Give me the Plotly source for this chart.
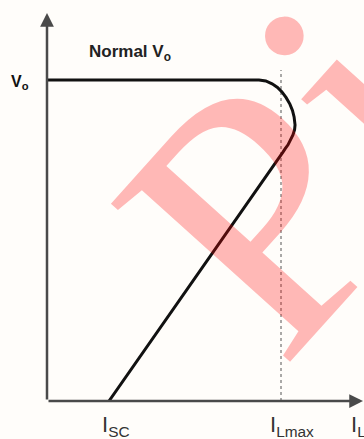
import plotly.graph_objects as go

# ---- data (normalised: I_Lmax = 1, V_o = 1) ----
current = [0.0, 0.906, 0.935, 0.962, 0.985, 1.004, 1.022, 1.038, 1.049, 1.056, 1.060, 1.058,
           1.051, 1.041, 1.030, 1.018, 1.009, 0.265]
voltage = [1.0, 1.0, 0.997, 0.988, 0.977, 0.963, 0.945, 0.925, 0.905, 0.885, 0.860, 0.845,
           0.829, 0.813, 0.798, 0.786, 0.776, 0.0]

I_SC = 0.265
I_LMAX = 1.0
V_O = 1.0
x_tick_vals = [0.295, 1.045, 1.33]
x_tick_text = ["I<sub>SC</sub>", "I<sub>Lmax</sub>", "I<sub>L</sub>"]
y_tick_text = "V<sub>o</sub>"
title_text = "Normal V<sub>o</sub>"
watermark_text = "Pi"

X_MAX = 1.3547
Y_MAX = 1.2492

fig = go.Figure()

# dotted I_Lmax marker line
fig.add_trace(go.Scatter(x=[I_LMAX, I_LMAX], y=[0, 1.031], mode="lines",
                         line=dict(color="#555555", width=1, dash="dot"),
                         hoverinfo="skip", showlegend=False))
# V-I foldback curve
fig.add_trace(go.Scatter(x=current, y=voltage, mode="lines",
                         line=dict(color="#111111", width=3),
                         hoverinfo="skip", showlegend=False, cliponaxis=False))

annotations = []
# axes with arrows
annotations.append(dict(x=0, y=1.2087, ax=0, ay=0, xref="x", yref="y", axref="x", ayref="y",
                        showarrow=True, arrowhead=2, arrowsize=1.1, arrowwidth=2.5,
                        arrowcolor="#4a4a4a", text=""))
annotations.append(dict(x=1.3504, y=0, ax=0, ay=0, xref="x", yref="y", axref="x", ayref="y",
                        showarrow=True, arrowhead=2, arrowsize=1.1, arrowwidth=2.5,
                        arrowcolor="#4a4a4a", text=""))
# x labels (below the axis, paper y)
for xv, txt in zip(x_tick_vals, x_tick_text):
    annotations.append(dict(x=xv, y=-0.022, xref="x", yref="paper", text=txt, showarrow=False,
                            xanchor="center", yanchor="top",
                            font=dict(family="Liberation Sans, Arial", size=22, color="#333333")))
# y label (left of the axis, paper x)
annotations.append(dict(x=-0.052, y=0.993, xref="paper", yref="y", text="<b>" + y_tick_text + "</b>",
                        showarrow=False, xanchor="right", yanchor="middle",
                        font=dict(family="Liberation Sans, Arial", size=16, color="#111111")))
# Normal Vo
annotations.append(dict(x=0.17, y=1.085, xref="x", yref="y", text="<b>" + title_text + "</b>",
                        showarrow=False, xanchor="left", yanchor="middle",
                        font=dict(family="Liberation Sans, Arial", size=17, color="#222222")))
# watermark
annotations.append(dict(x=1.047, y=0.700, xref="x", yref="y", text=watermark_text,
                        showarrow=False, xanchor="center", yanchor="middle", textangle=-48,
                        font=dict(family="Liberation Serif, Times New Roman", size=365,
                                  color="rgba(255,0,0,0.27)")))

fig.update_layout(
    width=364, height=439,
    margin=dict(l=47, r=0, t=0, b=38, pad=0),
    paper_bgcolor="#fffdfa", plot_bgcolor="#fffdfa",
    xaxis=dict(range=[0, X_MAX], visible=False, fixedrange=True),
    yaxis=dict(range=[0, Y_MAX], visible=False, fixedrange=True),
    annotations=annotations,
    showlegend=False,
)

fig.write_html("out.html", config={"displayModeBar": False},
               post_script="document.body.style.margin='0';document.body.style.background='#fffdfa';")
